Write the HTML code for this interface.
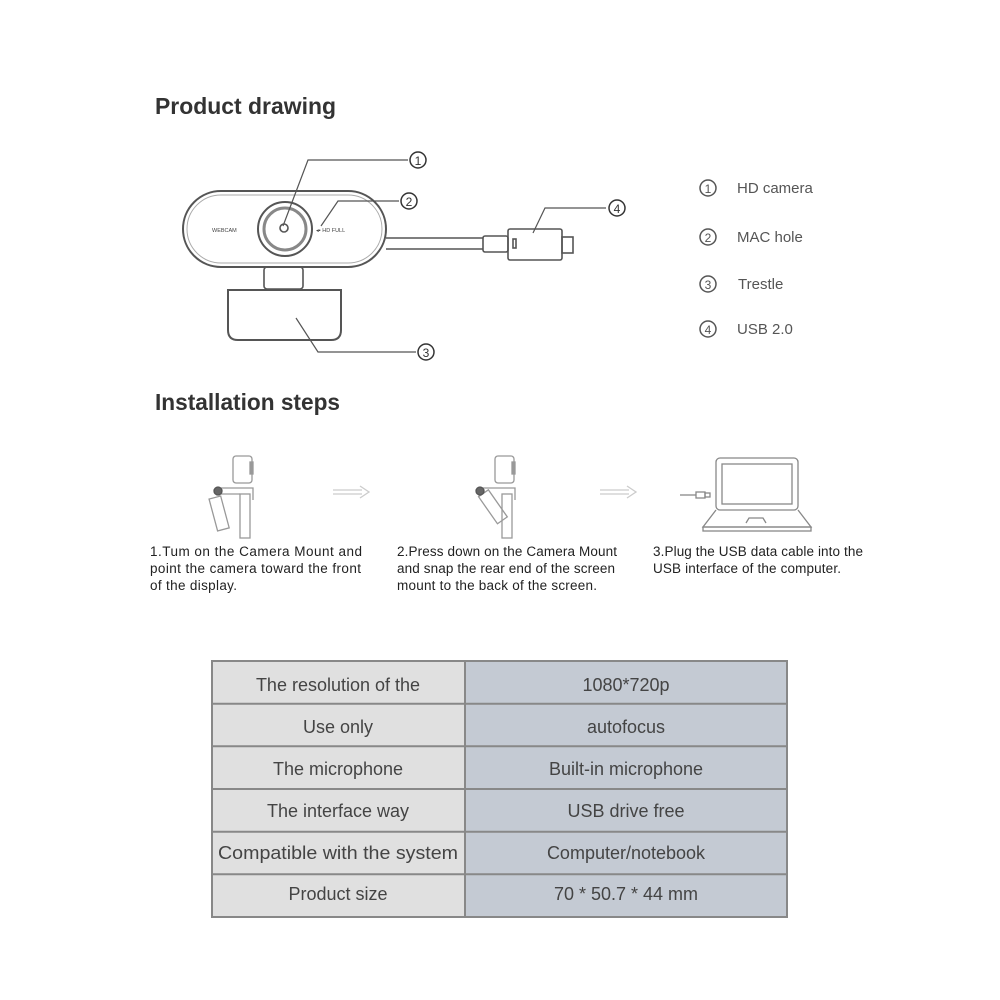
<!DOCTYPE html>
<html><head><meta charset="utf-8"><style>
html,body{margin:0;padding:0;background:#fff;}
svg{display:block}
text{font-family:"Liberation Sans",sans-serif;}
</style></head><body>
<svg width="1000" height="1000" viewBox="0 0 1000 1000" xmlns="http://www.w3.org/2000/svg">
<rect width="1000" height="1000" fill="#fff"/>
<text x="155" y="114" font-size="23" font-weight="bold" fill="#333" textLength="181" lengthAdjust="spacingAndGlyphs">Product drawing</text>
<text x="155" y="410" font-size="23" font-weight="bold" fill="#333" textLength="185" lengthAdjust="spacingAndGlyphs">Installation steps</text>

<g fill="none" stroke="#555" stroke-width="1.6">
 <rect x="183" y="191" width="203" height="76" rx="38" stroke-width="2"/>
 <rect x="187" y="195" width="195" height="68" rx="34" stroke="#aaa" stroke-width="1"/>
 <circle cx="285" cy="229" r="27" stroke-width="2"/>
 <circle cx="285" cy="229" r="21" stroke="#888" stroke-width="3"/>
 <circle cx="284" cy="228" r="4"/>
 <rect x="264" y="267" width="39" height="22" rx="3"/>
 <path d="M228 290 H341 V330 Q341 340 331 340 H238 Q228 340 228 330 Z" stroke-width="2"/>
 <path d="M386 238 H483 M386 249 H483"/>
 <rect x="483" y="236" width="25" height="16" rx="2"/>
 <rect x="508" y="229" width="54" height="31" rx="2"/>
 <rect x="513" y="239" width="3" height="9"/>
 <rect x="562" y="237" width="11" height="16"/>
 <path d="M283 226 L308 160 H408" stroke-width="1.2"/>
 <path d="M321 226 L338 201 H399" stroke-width="1.2"/>
 <path d="M296 318 L318 352 H416" stroke-width="1.2"/>
 <path d="M533 233 L545 208 H606" stroke-width="1.2"/>
</g>
<text x="212" y="232" font-size="5.5" fill="#444">WEBCAM</text>
<text x="316" y="232" font-size="5.5" fill="#444">◂▪ HD FULL</text>

<g font-size="16" fill="#333" text-anchor="middle">
 <circle cx="418" cy="160" r="8" fill="none" stroke="#333" stroke-width="1.5"/><text x="418" y="165" font-size="12">1</text>
 <circle cx="409" cy="201" r="8" fill="none" stroke="#333" stroke-width="1.5"/><text x="409" y="206" font-size="12">2</text>
 <circle cx="426" cy="352" r="8" fill="none" stroke="#333" stroke-width="1.5"/><text x="426" y="357" font-size="12">3</text>
 <circle cx="617" cy="208" r="8" fill="none" stroke="#333" stroke-width="1.5"/><text x="617" y="213" font-size="12">4</text>
</g>

<g fill="#555" font-size="15">
 <circle cx="708" cy="188" r="8" fill="none" stroke="#555" stroke-width="1.5"/><text x="708" y="193" font-size="12" text-anchor="middle">1</text>
 <text x="737" y="193">HD camera</text>
 <circle cx="708" cy="237" r="8" fill="none" stroke="#555" stroke-width="1.5"/><text x="708" y="242" font-size="12" text-anchor="middle">2</text>
 <text x="737" y="242">MAC hole</text>
 <circle cx="708" cy="284" r="8" fill="none" stroke="#555" stroke-width="1.5"/><text x="708" y="289" font-size="12" text-anchor="middle">3</text>
 <text x="738" y="289">Trestle</text>
 <circle cx="708" cy="329" r="8" fill="none" stroke="#555" stroke-width="1.5"/><text x="708" y="334" font-size="12" text-anchor="middle">4</text>
 <text x="737" y="334">USB 2.0</text>
</g>

<g fill="none" stroke="#999" stroke-width="1.3">
 <rect x="233" y="456" width="19" height="27" rx="3"/>
 <rect x="250" y="462" width="3" height="12" fill="#999"/>
 <rect x="240" y="494" width="10" height="44"/>
 <path d="M216 488 H253 V500"/>
 <path d="M216 494 H240"/>
 <rect x="213" y="497" width="12" height="33" transform="rotate(-15 219 513)"/>
 <circle cx="218" cy="491" r="4" fill="#666" stroke="#555"/>

 <rect x="495" y="456" width="19" height="27" rx="3"/>
 <rect x="512" y="462" width="3" height="12" fill="#999"/>
 <rect x="502" y="494" width="10" height="44"/>
 <path d="M478 488 H515 V500"/>
 <rect x="478" y="495" width="12" height="33" transform="rotate(-35 481 495)"/>
 <circle cx="480" cy="491" r="4" fill="#666" stroke="#555"/>

 <path d="M333 490 H362 M333 494 H362 M360 486 L369 492 L360 498" stroke="#ccc"/>
 <path d="M600 490 H629 M600 494 H629 M627 486 L636 492 L627 498" stroke="#ccc"/>

 <rect x="716" y="458" width="82" height="52" rx="4" stroke="#888"/>
 <rect x="722" y="464" width="70" height="40" stroke="#888"/>
 <path d="M716 510 L703 527 H811 L798 510" stroke="#888"/>
 <rect x="703" y="527" width="108" height="4" stroke="#888"/>
 <path d="M746 523 L749 518 H763 L766 523" stroke="#888"/>
 <path d="M680 495 H696" stroke="#888"/>
 <rect x="696" y="492" width="9" height="6" stroke="#888"/>
 <rect x="705" y="493" width="5" height="4" stroke="#888"/>
</g>

<g font-size="13.5" fill="#222" lengthAdjust="spacingAndGlyphs">
 <text x="150" y="556" textLength="212">1.Tum on the Camera Mount and</text>
 <text x="150" y="573" textLength="211">point the camera toward the front</text>
 <text x="150" y="590" textLength="87">of the display.</text>
 <text x="397" y="556" textLength="220">2.Press down on the Camera Mount</text>
 <text x="397" y="573" textLength="218">and snap the rear end of the screen</text>
 <text x="397" y="590" textLength="200">mount to the back of the screen.</text>
 <text x="653" y="556" textLength="210">3.Plug the USB data cable into the</text>
 <text x="653" y="573" textLength="188">USB interface of the computer.</text>
</g>

<g>
 <rect x="212" y="661" width="253" height="256" fill="#e0e0e0"/>
 <rect x="465" y="661" width="322" height="256" fill="#c4cad3"/>
 <g stroke="#888" stroke-width="2" fill="none">
  <rect x="212" y="661" width="575" height="256"/>
  <path d="M465 661 V917"/>
  <path d="M212 703.7 H787 M212 746.3 H787 M212 789 H787 M212 831.7 H787 M212 874.3 H787"/>
 </g>
 <g font-size="18" fill="#444" text-anchor="middle">
  <text x="338" y="691">The resolution of the</text>
  <text x="626" y="691">1080*720p</text>
  <text x="338" y="733">Use only</text>
  <text x="626" y="733">autofocus</text>
  <text x="338" y="775">The microphone</text>
  <text x="626" y="775">Built-in microphone</text>
  <text x="338" y="817">The interface way</text>
  <text x="626" y="817">USB drive free</text>
  <text x="338" y="859" textLength="240" lengthAdjust="spacingAndGlyphs">Compatible with the system</text>
  <text x="626" y="859">Computer/notebook</text>
  <text x="338" y="900">Product size</text>
  <text x="626" y="900">70 * 50.7 * 44 mm</text>
 </g>
</g>
</svg>
</body></html>
